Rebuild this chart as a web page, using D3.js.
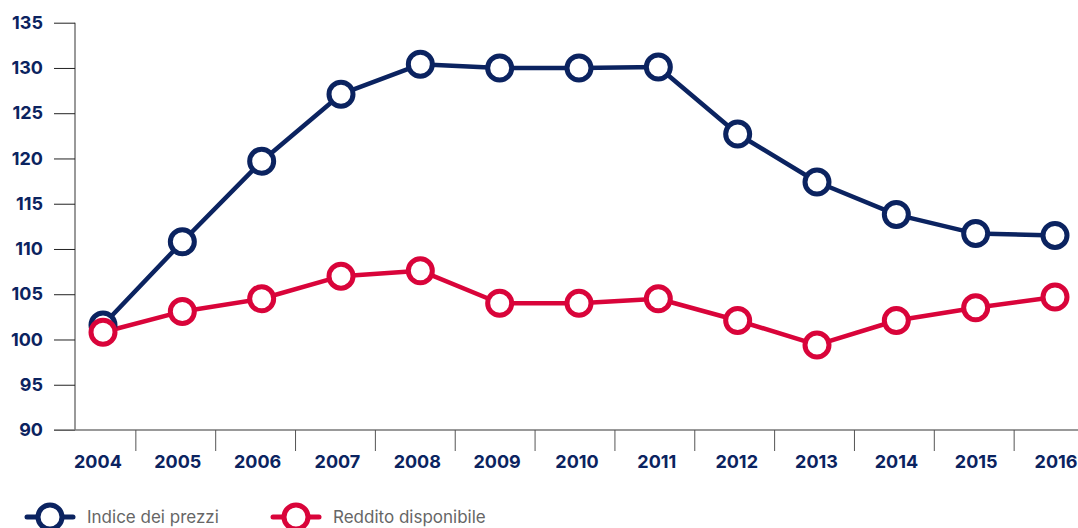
<!DOCTYPE html>
<html lang="it">
<head>
<meta charset="UTF-8">
<script src="https://d3js.org/d3.v7.min.js"></script>
<title>Indice dei prezzi e reddito disponibile</title>
<style>
  html, body { margin: 0; padding: 0; background: #fff; }
  svg { display: block; font-family: Inter, "Noto Sans", sans-serif; }
</style>
</head>
<body>
<div id="chart"></div>
<script>
    // Data
    const years = ["2004", "2005", "2006", "2007", "2008", "2009", "2010", "2011", "2012", "2013", "2014", "2015", "2016"];
    const prezzi = [101.6, 110.8, 119.7, 127.1, 130.4, 130.0, 130.0, 130.1, 122.7, 117.4, 113.8, 111.7, 111.5];
    const reddito = [100.8, 103.1, 104.5, 107.0, 107.6, 104.0, 104.0, 104.5, 102.1, 99.4, 102.1, 103.5, 104.7];
    const yTicks = [90, 95, 100, 105, 110, 115, 120, 125, 130, 135];
    const seriesNames = ["Indice dei prezzi", "Reddito disponibile"];
    const seriesColors = ["#0b2360", "#d9043a"];

    const width = 1078;
    const height = 528;
    const navy = "#0b2360";

    const svg = d3.select("#chart")
        .append("svg")
        .attr("width", width)
        .attr("height", height);

    // scales
    const y = d3.scaleLinear()
        .domain([90, 135])
        .range([430, 22.7]);

    // band scale gives the tick positions between years
    const xBand = d3.scaleBand()
        .domain(years)
        .range([56, 1094])
        .padding(0);

    // point scale for the markers
    const x = d3.scalePoint()
        .domain(years)
        .range([103, 1055]);

    // y axis
    const yAxis = svg.append("g")
        .attr("transform", "translate(75,0)")
        .call(d3.axisLeft(y).tickValues(yTicks).tickSize(21).tickPadding(11));
    yAxis.select(".domain").attr("stroke", "#777").attr("stroke-width", 1.5).attr("d", `M0,${y(135)}V${y(90)}`);
    yAxis.selectAll(".tick line").attr("stroke", "#222");
    yAxis.selectAll(".tick text")
        .attr("fill", navy)
        .attr("font-size", 18)
        .attr("font-weight", 700)
        .attr("font-family", "Inter, sans-serif");

    // x axis
    const xAxis = svg.append("g")
        .attr("transform", `translate(0,${y(90)})`);
    xAxis.append("line")
        .attr("x1", 54).attr("x2", width)
        .attr("stroke", "#777").attr("stroke-width", 1.5);
    xAxis.selectAll(".xtick")
        .data(years.slice(1))
        .join("line")
        .attr("class", "xtick")
        .attr("x1", d => xBand(d)).attr("x2", d => xBand(d))
        .attr("y1", 0).attr("y2", 21)
        .attr("stroke", "#555").attr("stroke-width", 1);
    xAxis.selectAll(".xlabel")
        .data(years)
        .join("text")
        .attr("class", "xlabel")
        .attr("x", d => xBand(d) + xBand.bandwidth() / 2 + 2)
        .attr("y", 38)
        .attr("text-anchor", "middle")
        .attr("fill", navy)
        .attr("font-size", 18)
        .attr("font-weight", 700)
        .text(d => d);

    // lines + markers
    const allSeries = [prezzi, reddito];
    const line = d3.line()
        .x((d, i) => x(years[i]))
        .y(d => y(d));

    allSeries.forEach((vals, s) => {
        svg.append("path")
            .datum(vals)
            .attr("fill", "none")
            .attr("stroke", seriesColors[s])
            .attr("stroke-width", 4.5)
            .attr("stroke-linejoin", "round")
            .attr("d", line);
    });
    allSeries.forEach((vals, s) => {
        svg.append("g")
            .selectAll("circle")
            .data(vals)
            .join("circle")
            .attr("cx", (d, i) => x(years[i]))
            .attr("cy", d => y(d))
            .attr("r", 12)
            .attr("fill", "#fff")
            .attr("stroke", seriesColors[s])
            .attr("stroke-width", 5);
    });

    // legend
    const legend = svg.append("g")
        .attr("transform", "translate(0,517)");
    const item = legend.selectAll("g")
        .data(seriesNames)
        .join("g")
        .attr("transform", (d, i) => `translate(${27 + i * 246},0)`);
    item.append("line")
        .attr("x1", 0).attr("x2", 46)
        .attr("stroke", (d, i) => seriesColors[i])
        .attr("stroke-width", 5)
        .attr("stroke-linecap", "round");
    item.append("circle")
        .attr("cx", 23)
        .attr("r", 12)
        .attr("fill", "#fff")
        .attr("stroke", (d, i) => seriesColors[i])
        .attr("stroke-width", 5);
    item.append("text")
        .attr("x", 60)
        .attr("y", 6)
        .attr("fill", "#666")
        .attr("font-size", 17)
        .text(d => d);
</script>
</body>
</html>
